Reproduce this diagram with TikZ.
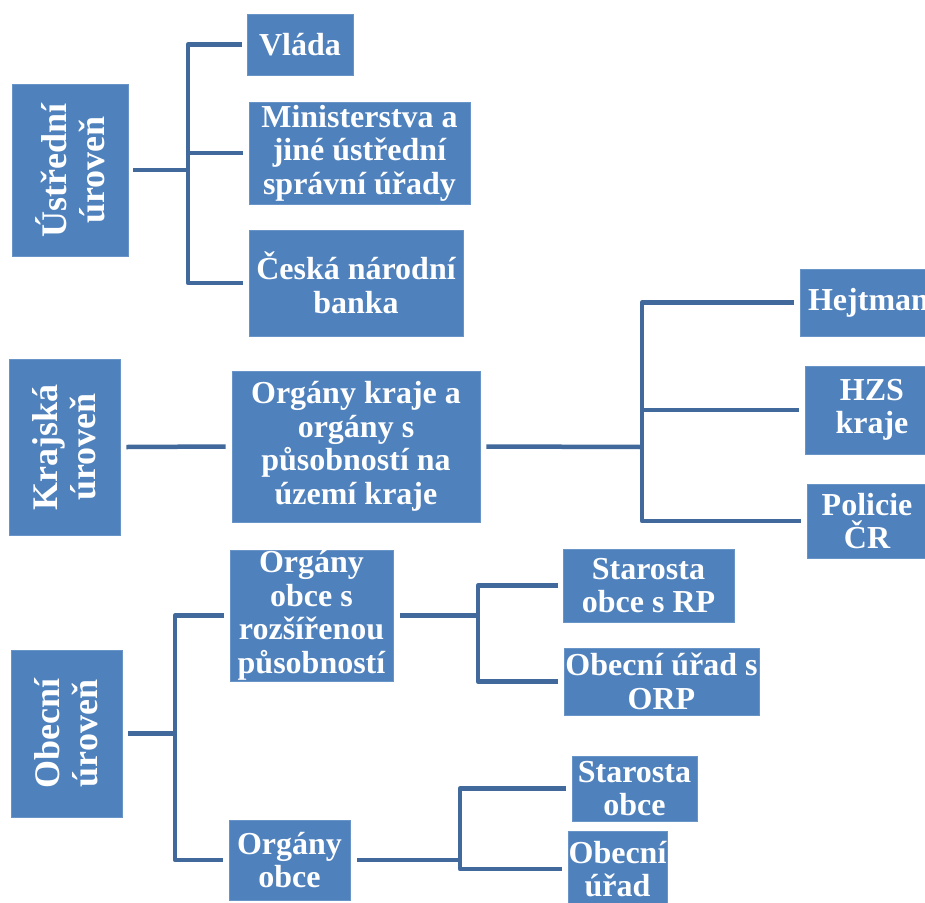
\documentclass[tikz,border=0pt]{standalone}
\usepackage{fontspec}
\setmainfont{Liberation Serif}
\definecolor{boxblue}{HTML}{4F81BD}
\definecolor{lineblue}{HTML}{41699C}
\begin{document}
\begin{tikzpicture}[x=1pt,y=-1pt,
  box/.style={fill=boxblue, draw=boxblue!85!white, line width=0.6pt, inner sep=0pt, text=white,
    font=\fontsize{32}{33.5}\selectfont\bfseries, align=center},
  vtext/.style={text=white, rotate=90, font=\fontsize{36}{38}\selectfont\bfseries, align=center, inner sep=0pt},
  conn/.style={draw=lineblue, line width=4.5pt, line join=round}]
\clip (0,0) rectangle (925,902);
% central level
\node[box, minimum width=116pt, minimum height=172pt] (u) at (70,170) {};
\node[vtext] (ut) at (u.center) {Ústřední\\úroveň};
\node[box, minimum width=106pt, minimum height=61pt] (vlada) at (300,44.5) {Vláda};
\node[box, minimum width=221pt, minimum height=102pt] (min) at (359.5,153) {Ministerstva a\\jiné ústřední\\správní úřady};
\node[box, minimum width=214pt, minimum height=106pt] (cnb) at (356,283) {Česká národní\\banka};
% regional level
\node[box, minimum width=111pt, minimum height=176pt] (k) at (64.5,447) {};
\node[vtext] (kt) at (k.center) {Krajská\\úroveň};
\node[box, minimum width=248pt, minimum height=151pt] (ok) at (356,446.5) {Orgány kraje a\\orgány s\\působností na\\území kraje};
\node[box, minimum width=137pt, minimum height=67pt] (hejt) at (868.5,302.5) {Hejtman};
\node[box, minimum width=134pt, minimum height=88pt] (hzs) at (872,410) {HZS\\kraje};
\node[box, minimum width=120pt, minimum height=74pt] (pol) at (867,521) {Policie\\ČR};
% municipal level
\node[box, minimum width=111pt, minimum height=167pt] (o) at (66.5,733.5) {};
\node[vtext] (ot) at (o.center) {Obecní\\úroveň};
\node[box, minimum width=163pt, minimum height=131pt] (orp) at (311.5,615.5) {Orgány\\obce s\\rozšířenou\\působností};
\node[box, minimum width=121pt, minimum height=80pt] (oo) at (289.5,860) {Orgány\\obce};
\node[box, minimum width=171pt, minimum height=73pt] (srp) at (648.5,585.5) {Starosta\\obce s RP};
\node[box, minimum width=195pt, minimum height=67pt] (ouorp) at (661.5,681.5) {Obecní úřad s\\ORP};
\node[box, minimum width=125pt, minimum height=65pt] (so) at (634.5,788.5) {Starosta\\obce};
\node[box, minimum width=99pt, minimum height=76pt] (ou) at (617.5,869) {Obecní\\úřad};
% connectors
\coordinate (ju) at (188,170);
\draw[conn] ([xshift=5pt]u.east) -- (ju);
\draw[conn] ([xshift=-5pt]vlada.west) -| (ju) |- ([xshift=-6pt]cnb.west);
\draw[conn] (ju |- min.west) -- ([xshift=-6pt]min.west);
\draw[conn] ([xshift=6pt]k.east) -- ([xshift=-6pt]ok.west);
\coordinate (jk) at (642,447);
\draw[conn] ([xshift=6pt]ok.east) -- (jk);
\draw[conn] ([xshift=-6pt]hejt.west) -| (jk) |- ([xshift=-6pt]pol.west);
\draw[conn] (jk |- hzs.west) -- ([xshift=-6pt]hzs.west);
\coordinate (jo) at (175,733.5);
\draw[conn] ([xshift=6pt]o.east) -- (jo);
\draw[conn] ([xshift=-6pt]orp.west) -| (jo) |- ([xshift=-6pt]oo.west);
\coordinate (jr) at (478,615.5);
\draw[conn] ([xshift=7pt]orp.east) -- (jr);
\draw[conn] ([xshift=-5pt]srp.west) -| (jr) |- ([xshift=-6pt]ouorp.west);
\coordinate (jb) at (460,860);
\draw[conn] ([xshift=7pt]oo.east) -- (jb);
\draw[conn] ([xshift=-6pt]so.west) -| (jb) |- ([xshift=-6pt]ou.west);
\end{tikzpicture}
\end{document}
